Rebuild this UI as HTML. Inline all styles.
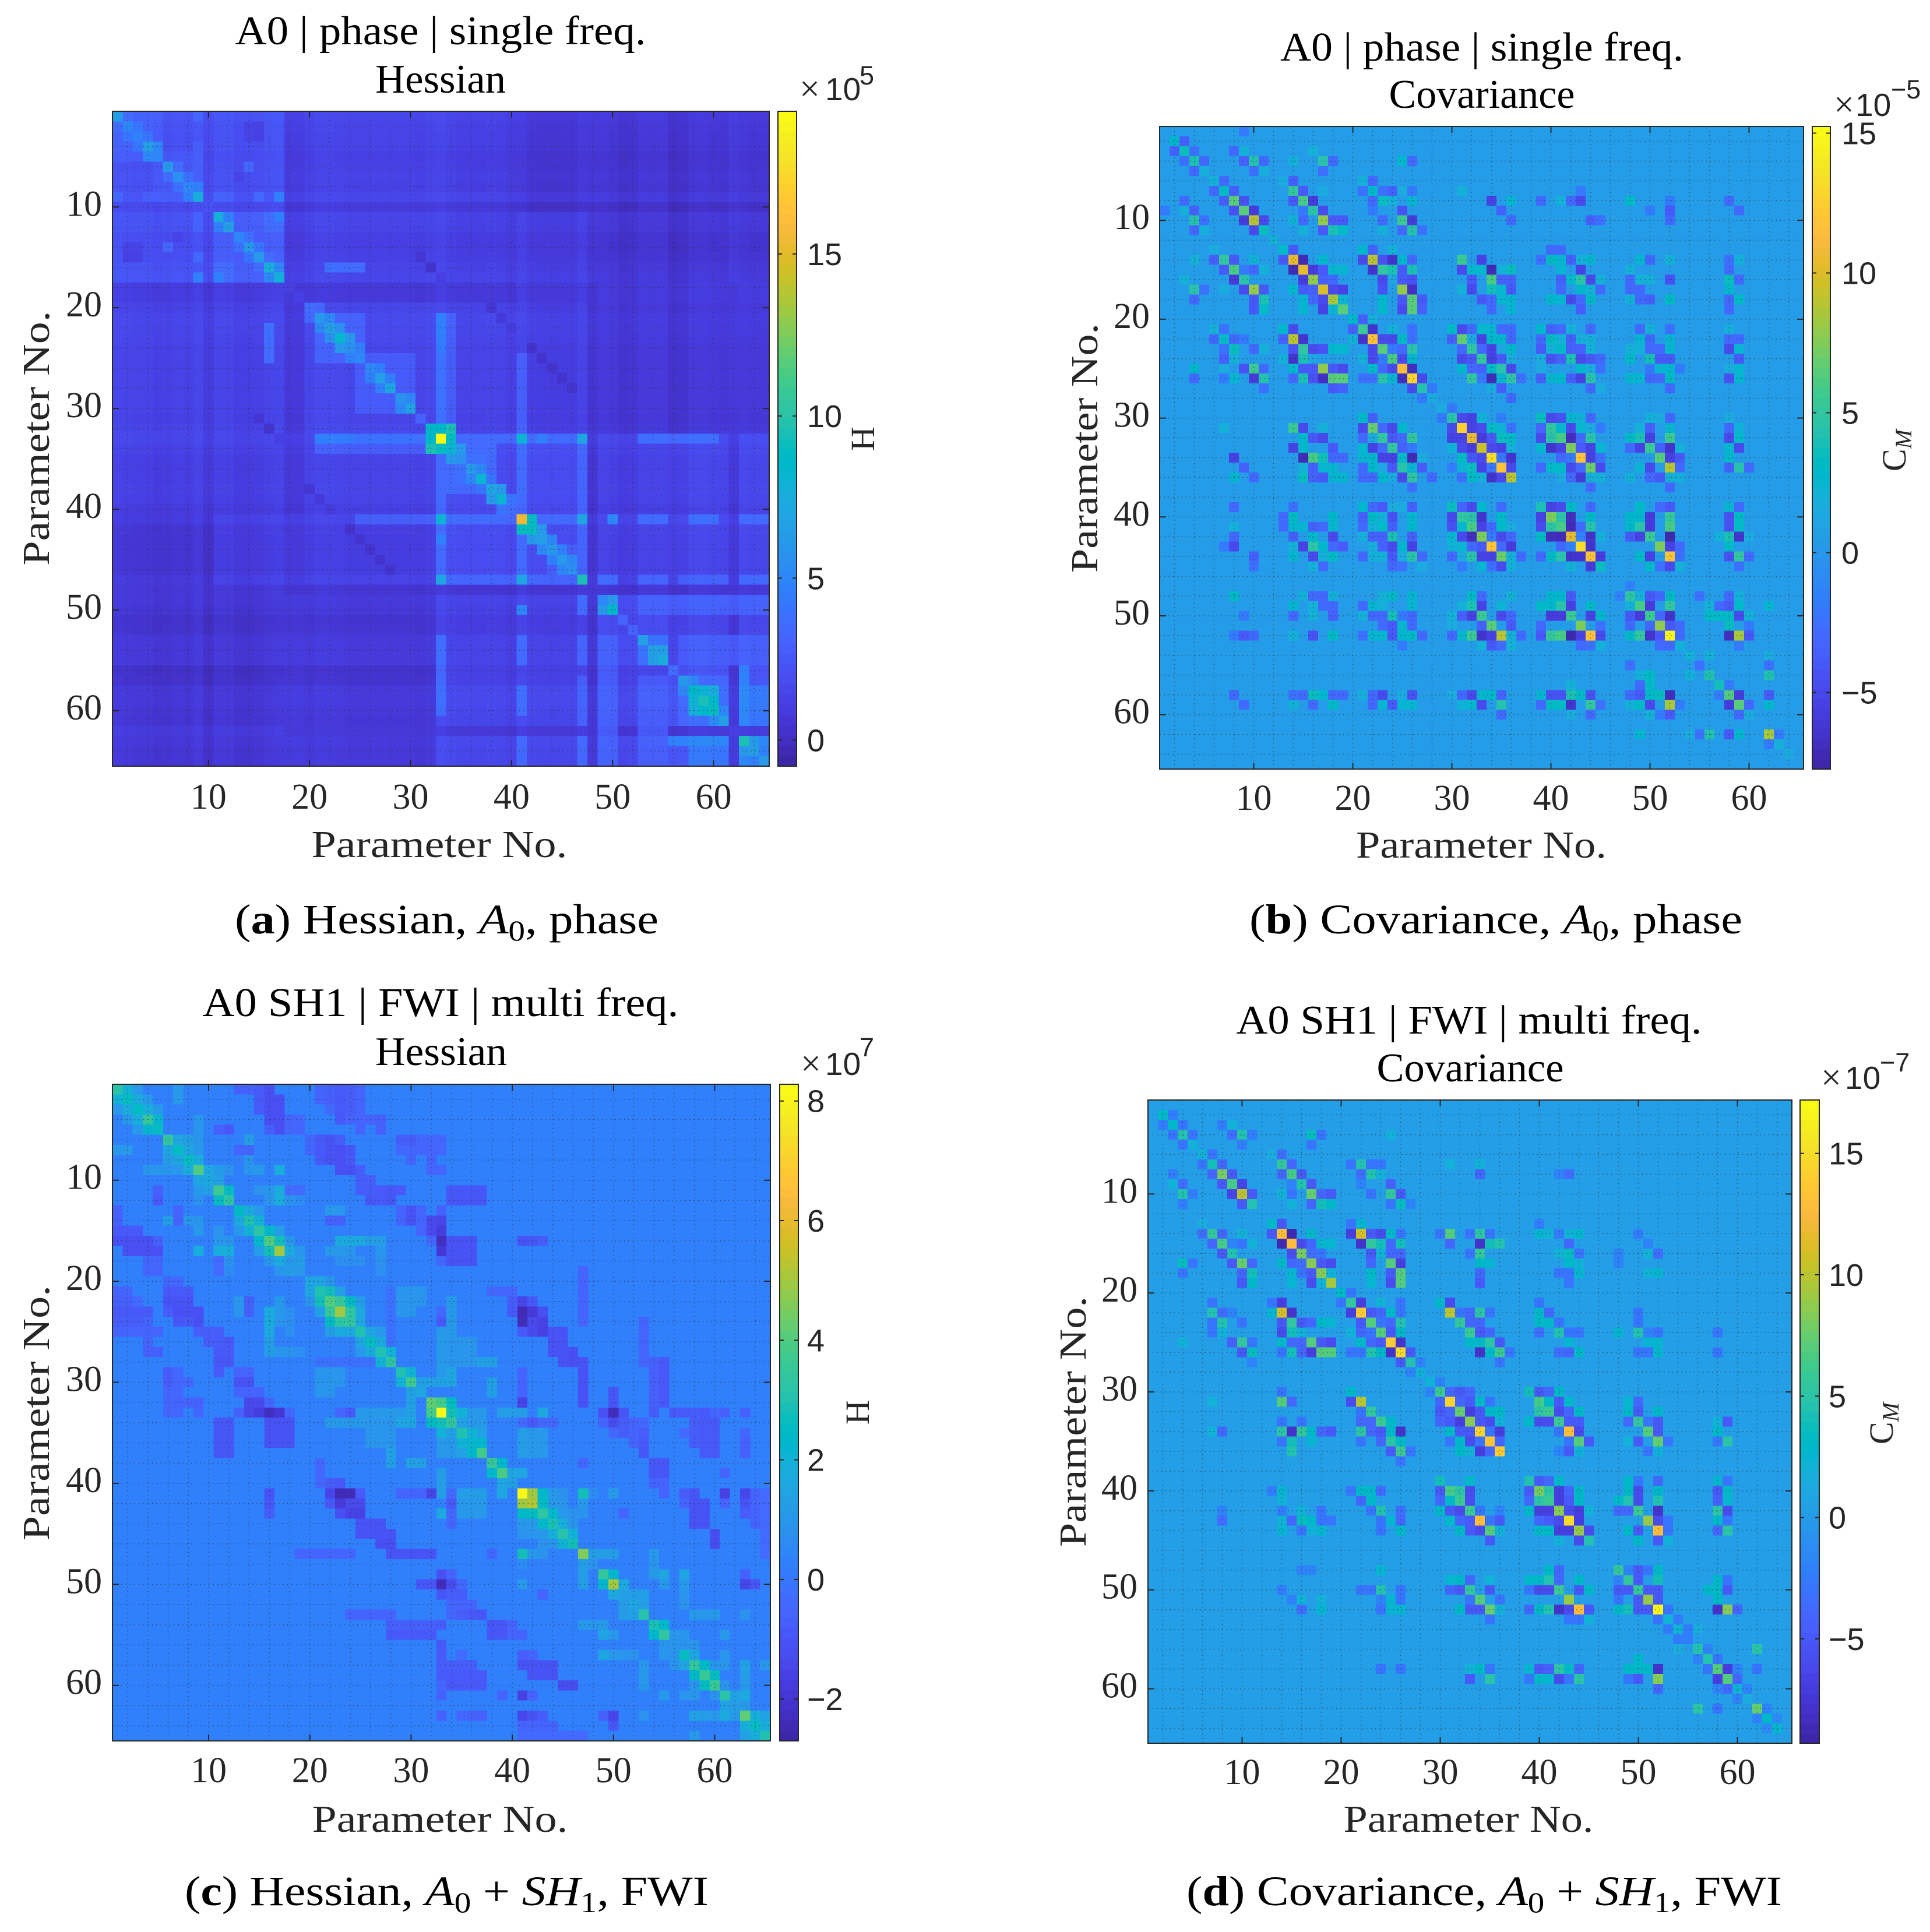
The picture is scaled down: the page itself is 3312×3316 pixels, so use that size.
<!DOCTYPE html>
<html lang="en">
<head>
<meta charset="utf-8">
<title>Hessian and covariance matrices</title>
<style>
html,body{margin:0;padding:0;background:#fff;}
svg{display:block;}
.tt{font-family:"Liberation Serif",serif;fill:#000;text-anchor:middle;}
.ax{font-family:"Liberation Serif",serif;fill:#262626;}
.cb{font-family:"Liberation Sans",sans-serif;fill:#262626;}
.cap{font-family:"Liberation Serif",serif;fill:#000;font-size:72px;}
</style>
</head>
<body>
<svg id="figure" xmlns="http://www.w3.org/2000/svg" width="3312" height="3316" viewBox="0 0 3312 3316">
<rect x="0" y="0" width="3312" height="3316" fill="#fff"/>
<g id="marks"></g>

<!-- Panel a -->
<text class="tt" x="756" y="76" font-size="70" textLength="705" lengthAdjust="spacingAndGlyphs">A0 | phase | single freq.</text>
<text class="tt" x="756" y="159" font-size="70" textLength="224" lengthAdjust="spacingAndGlyphs">Hessian</text>
<text class="ax" x="754" y="1471" font-size="66" text-anchor="middle" textLength="439" lengthAdjust="spacingAndGlyphs">Parameter No.</text>
<text class="ax" transform="translate(84,752) rotate(-90)" font-size="66" text-anchor="middle" textLength="437" lengthAdjust="spacingAndGlyphs">Parameter No.</text>
<text class="ax" transform="translate(1500,753) rotate(-90)" font-size="58" text-anchor="middle">H</text>
<text class="ax" x="1372" y="173" font-size="62">×</text>
<text class="cb" x="1416" y="172" font-size="55">10</text>
<text class="cb" x="1475" y="145" font-size="45">5</text>
<text class="cap" x="403" y="1602" textLength="727" lengthAdjust="spacingAndGlyphs">(<tspan font-weight="bold">a</tspan>) Hessian, <tspan font-style="italic">A</tspan><tspan dy="12" font-size="50">0</tspan><tspan dy="-12">, phase</tspan></text>

<!-- Panel b -->
<text class="tt" x="2543" y="104" font-size="70" textLength="692" lengthAdjust="spacingAndGlyphs">A0 | phase | single freq.</text>
<text class="tt" x="2543" y="185" font-size="70" textLength="319" lengthAdjust="spacingAndGlyphs">Covariance</text>
<text class="ax" x="2542" y="1472" font-size="66" text-anchor="middle" textLength="430" lengthAdjust="spacingAndGlyphs">Parameter No.</text>
<text class="ax" transform="translate(1883,769) rotate(-90)" font-size="66" text-anchor="middle" textLength="428" lengthAdjust="spacingAndGlyphs">Parameter No.</text>
<text class="ax" transform="translate(3270,809) rotate(-90)" font-size="58">C<tspan dy="10" font-size="40" font-style="italic">M</tspan></text>
<text class="ax" x="3147" y="200" font-size="62">×</text>
<text class="cb" x="3184" y="199" font-size="55">10</text>
<text class="cb" x="3245" y="169" font-size="45">−5</text>
<text class="cap" x="2144" y="1602" textLength="846" lengthAdjust="spacingAndGlyphs">(<tspan font-weight="bold">b</tspan>) Covariance, <tspan font-style="italic">A</tspan><tspan dy="12" font-size="50">0</tspan><tspan dy="-12">, phase</tspan></text>

<!-- Panel c -->
<text class="tt" x="756" y="1744" font-size="70" textLength="817" lengthAdjust="spacingAndGlyphs">A0 SH1 | FWI | multi freq.</text>
<text class="tt" x="757" y="1828" font-size="70" textLength="226" lengthAdjust="spacingAndGlyphs">Hessian</text>
<text class="ax" x="755" y="3144" font-size="66" text-anchor="middle" textLength="439" lengthAdjust="spacingAndGlyphs">Parameter No.</text>
<text class="ax" transform="translate(84,2425) rotate(-90)" font-size="66" text-anchor="middle" textLength="438" lengthAdjust="spacingAndGlyphs">Parameter No.</text>
<text class="ax" transform="translate(1491,2424) rotate(-90)" font-size="58" text-anchor="middle">H</text>
<text class="ax" x="1374" y="1846" font-size="62">×</text>
<text class="cb" x="1416" y="1845" font-size="55">10</text>
<text class="cb" x="1475" y="1813" font-size="45">7</text>
<text class="cap" x="317" y="3270" textLength="899" lengthAdjust="spacingAndGlyphs">(<tspan font-weight="bold">c</tspan>) Hessian, <tspan font-style="italic">A</tspan><tspan dy="12" font-size="50">0</tspan><tspan dy="-12"> + </tspan><tspan font-style="italic">SH</tspan><tspan dy="12" font-size="50">1</tspan><tspan dy="-12">, FWI</tspan></text>

<!-- Panel d -->
<text class="tt" x="2521" y="1774" font-size="70" textLength="799" lengthAdjust="spacingAndGlyphs">A0 SH1 | FWI | multi freq.</text>
<text class="tt" x="2523" y="1856" font-size="70" textLength="321" lengthAdjust="spacingAndGlyphs">Covariance</text>
<text class="ax" x="2520" y="3144" font-size="66" text-anchor="middle" textLength="429" lengthAdjust="spacingAndGlyphs">Parameter No.</text>
<text class="ax" transform="translate(1863,2440) rotate(-90)" font-size="66" text-anchor="middle" textLength="430" lengthAdjust="spacingAndGlyphs">Parameter No.</text>
<text class="ax" transform="translate(3248,2479) rotate(-90)" font-size="58">C<tspan dy="10" font-size="40" font-style="italic">M</tspan></text>
<text class="ax" x="3125" y="1870" font-size="62">×</text>
<text class="cb" x="3166" y="1869" font-size="55">10</text>
<text class="cb" x="3226" y="1839" font-size="45">−7</text>
<text class="cap" x="2036" y="3270" textLength="1022" lengthAdjust="spacingAndGlyphs">(<tspan font-weight="bold">d</tspan>) Covariance, <tspan font-style="italic">A</tspan><tspan dy="12" font-size="50">0</tspan><tspan dy="-12"> + </tspan><tspan font-style="italic">SH</tspan><tspan dy="12" font-size="50">1</tspan><tspan dy="-12">, FWI</tspan></text>
</svg>

<script>
/* Shared axis data */
const paramCount = 65;
const axisTicks = [10,20,30,40,50,60];

/* Panel a: Hessian, A0, phase (x 1e5) */
const hessAMin = -0.8, hessAMax = 19.4, hessABase = 1.0;
const hessATicks = [0,5,10,15];
const hessADiag = [6.3,5,4.5,6.5,5,6,5.5,5,7.5,2,7.5,6.5,5,6,6,7.5,7.8,1,1,3.5,6,6.5,8.3,5.5,5,5,6.5,7,5.5,6.8,3,8.5,19.4,8,5.5,6,8,7,8,3.5,15.5,9,6.5,6,6,5.5,9.5,0.5,5,8.5,3,3,6.5,6.5,7.5,3.5,6,8.5,9.5,9,6.5,1,9.5,6.5,6];
const hessAShift = [.4,.3,.2,.2,0,.1,.2,.1,.4,-.2,.3,.3,0,0,.1,.3,.4,0,0,0,.2,.2,.1,0,0,0,0,0,0,0,-.1,.1,.4,.2,0,0,0,.1,0,-.2,.4,.1,0,0,0,0,.3,-.1,.2,.1,-.2,-.1,.2,.2,.2,-.2,-.1,.3,.3,.2,.1,-.2,.3,.2,.2];
const hessAPatches = [
[1,17,1,17,1.6],[1,17,18,19,.7],[1,17,20,32,1],[1,17,33,40,.8],[1,17,41,47,.6],[1,10,41,47,.2],[1,17,48,55,.2],[1,17,56,65,.1],
[18,19,18,65,.6],[20,32,20,32,1.4],[20,32,33,40,1.2],[20,32,41,47,.9],[20,32,48,55,.5],[20,32,56,65,.4],
[33,47,33,47,1.7],[33,47,48,55,1],[33,47,56,65,1.2],[49,55,49,55,1.7],[49,55,56,65,1.4],[56,65,56,65,2.2],
[48,48,1,65,.5],[62,62,1,65,.8],
[1,5,1,5,2.4],[5,9,5,9,2.2],[11,17,11,17,2.4],[21,25,21,25,2.8],[25,30,25,30,2.6],[34,38,34,38,3.2],[35,37,35,37,3.8],[41,43,41,43,4.2],[44,47,44,47,2.7],[49,50,49,50,4.2],[53,55,53,55,3.4],
[21,31,33,33,3.3],[34,34,21,32,2.5],[33,33,21,24,3.9],[33,33,25,32,3.4],[33,33,34,47,3],[41,41,33,47,3],[41,41,25,32,2.4],[47,47,33,46,2.8],
[41,41,53,55,2.8],[41,41,58,60,3],[41,41,63,65,2.7],[47,47,49,50,3],[47,47,53,55,2.6],[47,47,57,61,2.5],[47,47,63,65,2.8],[33,33,53,60,3],
[49,50,53,65,2.6],[53,55,57,65,2.4],[57,61,57,61,3.2],[58,61,63,65,3.7],[56,61,63,63,4.5],[63,65,63,65,4.2],
[16,16,22,25,2.8],[22,25,16,16,3.2]
];
const hessARows = [
[1,2,3.5],[2,3,4],[3,4,4],[4,5,5],[6,7,3.5,14,3.2],[7,8,3.8],[8,9,4.5],
[9,1,3.2,4,2.8,5,2.8,6,2.8,7,2.8,11,3,12,3,15,3.3,17,4.5],
[11,12,4.5,16,3.5,17,4.5],[12,16,3.5,17,3.5],[13,14,3.8,7,1.2],[14,15,4,2,1.2,3,1.2],[15,16,3.5,2,1.1,3,1.1],[16,17,5],
[20,21,3.3],[21,22,5],[22,23,5.5],[23,24,6],[24,25,4.5],[26,27,4.5],[27,28,4.5],[29,30,5],
[32,33,8.5,34,9.5],[33,34,9,41,8,43,4.5],[34,35,6],[36,37,5],[37,38,4],[38,39,6],[39,40,4],
[41,42,9,47,7,50,5],[42,43,6],[43,44,5],[44,45,4.5],[45,46,5],[33,47,7],
[49,50,6],[53,54,4],[54,55,6.5],[57,58,5],[58,59,8],[59,60,8.5],[58,60,7.5],[60,61,5],[63,64,6],[63,65,5],
[24,42,.2],[25,43,.2],[26,44,.2],[27,45,.2],[28,46,.3],[15,31,.4],[16,32,.3],[17,33,1],[38,20,.5],[39,21,.6],[40,22,.8]
];

/* Panel b: Covariance, A0, phase (x 1e-5) */
const covBMin = -7.74, covBMax = 15.24, covBBase = 0.3;
const covBTicks = [-5,0,5,10,15];
const covBRows = [
[1,9,-2],[2,2,2.8,3,-3.5],[3,3,3.5,4,-2.5,8,-3,9,2,16,2],
[4,4,4,5,-3,9,-3.5,10,4.3,11,-3,14,2,17,4.5,18,-3,25,2.8,26,-3],
[5,5,1.8,10,-2.5,11,1.8,17,-2.5],[6,6,2,7,-3,13,1.5,14,-3.5,21,2,22,-3],
[7,7,3,8,-3.5,14,5,15,-4,17,1.5,21,-2.5,22,3,23,-2.5,24,-3.5,25,1.5,26,-2,31,2,43,-2],
[8,8,6.5,9,-4.5,14,-4,15,6,16,-6,22,-3,23,3.5,24,2,26,2.5,34,-4,42,-3,52,-2],
[9,9,6.5,10,-6,15,-2,16,4.5,17,-5,22,-2,25,-4.5],
[10,10,9,11,-5,14,2.2,15,-3,17,8,18,-4,19,-4,23,-3,25,5.5,26,-6,52,-3],
[11,11,3.5,15,2,17,-4,18,4,19,3,23,2,25,-3,26,4.3,27,-2.5],
[12,12,2],[13,13,3,14,-4,21,2.8,22,-3.5,24,2],
[14,14,10.5,15,-7.3,17,2.7,21,-5,22,9,23,-4.5,24,-6.5,25,2.7,26,-3,31,5.5,33,-5.5],
[15,15,10.5,16,-6,17,-4,18,2.5,19,2.5,22,-6.5,23,5,24,4,25,-4,26,4,31,-5,32,2.8,33,2.8,34,-7.2,35,2,36,3.5],
[16,16,8,17,-3.5,18,-3,23,-5,24,1,25,-4,26,-4.5,32,-4,34,6,35,-3.5,36,-3.5],
[17,17,10,18,-5,19,-5.5,23,-4.5,25,8,26,-6.8,31,2,32,-5,34,3.7,35,2.5,36,-4],
[18,18,8.5,19,2.3,23,2.7,25,-4,26,6.5,27,-4,33,-4,34,-3,35,2.5,36,2.5],
[19,19,6.5,23,2.7,25,-5,26,6.5,27,-3.5,34,-3,36,2.5],
[20,20,2.8,21,-3.5,22,2],[21,21,5.5,22,-6.5,24,2,26,-2.5,30,3,31,-5,32,-3,33,2.7,34,2.5,35,-3,36,-3],
[22,22,12,23,-5,24,-5,25,3,26,-2.5,30,-3.5,31,6.8,32,1.5,33,-5.5,34,2.8,35,2.8,36,-3,40,3.2,41,2,42,-3.5,44,2,50,-3,52,2.5],
[23,23,6.5,24,-2,25,-3,26,4.5,31,-3,32,5,33,-3,34,-5.5,35,1,36,2.8,39,-3.5,40,2,41,3,42,-3.5,43,-3.5,44,2,48,2,49,2,50,-3,51,-3,52,3],
[24,24,6,25,-5,26,2.5,31,-5,32,-4,33,5,34,-5.5,35,-4,36,1.5,39,1.5,40,-4.5,41,-3.5,42,4,43,-5,44,-4,50,3.8,51,-4,52,-4],
[25,25,11.5,26,-7,31,2.8,32,-3,33,-3.5,34,3,35,4.5,36,-5,39,1.5,43,3,44,1.5,45,-2.5,51,2.5,52,2.5,53,-2,58,1.5],
[26,26,13,27,-5,32,5,33,-2,34,-7.2,35,2.5,36,4.8,37,-2.5,39,-3.8,40,2.5,41,2.8,42,-3.5,43,-5.5,44,4.5,48,1.8,49,1.8,50,-3,51,-3,52,4.2,58,-3.5,59,1],
[27,27,4.3,28,-2,34,1.5,35,-3.8,44,-3,45,1.5,52,-3],[28,28,1.5,36,-3],[29,29,1.5,30,-2],
[30,30,4.5,31,-5,32,-5.5,33,2.2,35,-1.6,39,3.5,40,-5,41,-4.5,42,2.5,43,2.2,44,-3,50,2,51,1.5,52,-3,58,1.5],
[31,31,12.8,32,-5.5,33,-5,34,3.2,35,2.3,36,-2.5,39,-3.3,40,5,41,2.7,42,-5,43,2.4,44,1.5,45,-2,49,2,50,-3.5,52,2.5,58,-3,59,2.2],
[32,32,10.5,33,-6,34,-4,35,3.5,36,3,39,-5,40,4.5,41,6,42,-7,43,-3,44,4.5,48,3,49,4,50,-5.5,52,5.5,58,-5,59,2.7],
[33,33,9.5,34,-5,35,-5.5,36,2,39,2.7,40,-6.5,41,-5.5,42,7.5,43,-4,44,-5.5,45,2.5,48,-3,49,-5.5,50,5.5,51,-3.5,52,-6.5,53,2,58,2.6,59,-5],
[34,34,13.5,35,-2.2,36,-6.5,41,-3,42,-2,43,12,44,-5.5,45,-2.5,51,6.5,52,-5.5,53,-4,58,2.8],
[35,35,12,36,-5,39,-3,40,3,41,3,42,-5,43,-3,44,7,45,-5,49,2.3,50,-5,52,9,53,-3,58,-3.5,59,4.3,60,-3],
[36,36,9,41,1.5,42,-3,43,-6,44,2,45,2,48,2,50,-3,51,-4,52,2,53,2],[37,44,-3,52,-3],
[39,39,4,40,-5.5,41,-5,42,3.2,44,-3,49,3,51,-3,52,-4,58,2.5,59,-3],
[40,40,7.5,41,4.7,42,-7,44,3,48,2.8,49,2.8,50,-6,52,5.2,58,-4.5,59,3.2],
[41,41,6,42,-7.2,43,-3,44,4.5,48,2.8,49,4.5,50,-6,52,6,58,-4.5,59,3.2],
[42,42,10.5,43,-1.5,44,-6.5,45,2,48,-4,49,-5.5,50,5.5,52,-7.5,57,2,58,4,59,-6.5,60,1.5],
[43,43,13.5,44,-6.5,51,7.5,52,-5.5,53,-3,58,3],
[44,44,12,45,-6,49,3,50,-5.5,52,12,53,-2.5,58,-4.5,59,5,60,-3],
[45,45,3.5,50,2.8,51,-2.5,52,-5,53,2,59,-2.5],[47,48,-1.5],
[48,48,4.8,49,2,50,-4,51,-3,52,3,55,-2.5,58,-3,59,2],
[49,49,6,50,-6,52,5,56,2,57,-3,58,-4,59,3,62,2.5],
[50,50,5.5,51,-3,52,-6.5,56,3,57,3,58,3,59,-5,60,2],
[51,51,8,52,-4,53,-3,58,3.4,60,-2],[52,52,15,53,-3,58,-7,59,8.5,60,-4],[53,53,2,59,-2],
[54,54,2,56,2,62,1.5],[55,55,-2.5,62,-2.5],[56,56,4.2,62,4.2],[57,57,3.8,58,-2],[58,58,6.3,59,-6,62,-4],[59,59,6.5,60,-3,62,2.8],
[60,60,1.5],[62,62,8.5,63,-2],[63,63,1.8],[64,64,1.5],
[34,8,-5.5],[35,9,-3.5],[36,8,2.6,10,-3],[39,8,-3,14,-2.5,21,2.8,22,-3,23,-4,26,-3.5],[40,13,-3,14,3.2,18,2.8,21,-3.5],[41,8,2,13,-3,14,2.6,15,2.5,16,-3.5,17,-3,18,2.5,21,-3],
[42,14,-3.5,16,2.7,18,-5,21,2],[43,8,-5,14,2,15,-5.5,16,4.7,17,2.8,18,-3,19,-3.8,22,1.8,25,2.8],[44,10,-3.5,14,2.5,16,-5,17,2,18,3,21,-3],[45,10,-2.5,16,2,17,-3,24,-3],
[48,8,3,15,2,16,-3,17,-3,18,2,24,3,26,2.5],[49,14,2.5,16,2,17,-3,18,-3,21,-3,22,2.5,26,2.5],[50,9,-2,14,-3,16,2,18,-3.5,21,2,25,-2,26,-3],
[52,9,-4,14,2,16,-4.5,18,3.2,21,-2.5,22,2.5,23,2.5,25,2.8,26,3,27,-3],
[58,8,-3,14,-2.5,15,-3,16,3.5,17,2.7,18,-3,19,-3,21,1.8,22,-3,23,-5,25,1.5,26,-4.5],[59,9,-3,14,2,16,-3,18,3,22,-3,23,2.5,24,-4,25,2.5,26,2.5]
];

/* Panel c: Hessian, A0 + SH1, FWI (x 1e7) */
const hessCMin = -2.7, hessCMax = 8.28, hessCBase = 0.2;
const hessCTicks = [-2,0,2,4,6,8];
const hessCDiag = [3.2,2.6,2.5,3.5,2.6,3.4,2.6,2.6,4,1.6,3.7,3.3,2.5,3,3.3,4,5,1,1,1.5,3,4,5,3.4,3,2.6,3,3.3,3,3.7,1.5,4.2,8.2,3.4,3,2.2,3.8,3.5,3.9,1.3,8.2,5.2,3.3,2.9,3.2,2.8,4.6,.8,3.5,5,1.3,1.5,3.1,2.9,3.4,.9,2.6,3.4,3.6,3.6,3.2,1.2,4.2,2.6,3];
const hessCPatches = [
[1,1,13,16,-.5],[1,2,21,23,-.6],[2,2,15,17,-.7],[3,3,15,17,-1],[3,3,22,25,-.4],[4,4,16,17,-1.2],[4,4,18,19,-.5],[4,4,23,27,-.6],[5,5,11,12,-.7],[5,5,16,18,-.7],
[6,6,21,23,-.8],[6,7,29,33,-.5],[7,7,13,14,-.5],[7,8,22,23,-1.1],[9,9,23,25,-1],[9,9,32,33,-.7],
[11,11,18,19,-.4],[11,11,25,29,-.9],[12,12,5,5,-.9],[12,12,26,28,-1],[11,12,34,37,-1],
[13,14,1,1,-.7],[13,14,30,30,-1],[13,14,7,7,-.6],[14,14,22,23,-.7],[14,15,32,33,-1.3],[15,15,1,3,-.9],[16,16,1,4,-1.2],[17,17,2,5,-1.2],[17,17,33,36,-1.7],[18,19,4,5,-.5],[16,16,41,43,-1.1],
[20,20,6,7,-.5],[21,21,6,8,-.9],[22,22,1,2,-.7],[22,22,6,8,-1.1],[23,23,1,4,-.9],[23,23,7,9,-1.2],[24,24,1,3,-.8],[24,24,7,9,-1],[25,25,1,5,-.6],[25,25,9,11,-.8],[26,26,10,11,-.8],[27,27,4,5,-.7],[27,27,11,12,-.9],[28,28,11,12,-1],[28,28,21,28,-.2],
[29,30,6,6,-.8],[29,29,13,14,-.6],[30,30,13,14,-1.1],[30,30,7,8,-.5],[31,31,13,15,-.6],[32,32,7,9,-.6],[32,32,14,15,-1.4],[33,33,13,14,-.7],[34,36,11,12,-1],[34,36,16,18,-1.1],
[21,21,38,40,-.5],[22,24,47,47,-.6],[25,25,42,44,-1.3],[26,26,44,45,-1],[27,27,44,46,-1.1],[28,28,45,46,-1.2],[30,32,47,47,-1.1],[30,32,54,55,-.7],[31,32,50,50,-1],
[41,41,29,31,-.6],[44,44,25,27,-1.1],[45,45,25,28,-1.1],[46,46,27,28,-1.2],[47,47,28,32,-1.1],[47,47,19,24,-.6],[53,53,24,28,-.6],[54,54,28,33,-.7],[55,55,28,32,-.9],
[33,33,56,59,-.9],[34,34,43,44,-.5],[35,35,51,52,-.4],[35,36,58,60,-.7],[37,37,59,60,-.7],[38,39,54,55,-1],[40,40,54,55,-.6],
[41,41,57,58,-.8],[42,43,58,59,-1.1],[44,44,58,59,-1.1],[45,46,60,60,-1],[51,51,34,35,-.8],[52,52,34,36,-.6],[53,53,34,37,-.9],[54,55,38,39,-1],[58,58,33,36,-.8],[58,58,41,43,-1.1],[59,59,34,37,-.9],[59,59,43,44,-1.1],[60,60,34,37,-.9],[60,60,45,46,-1.3],[63,63,35,37,-.7],[63,63,42,43,-1.2],[64,64,41,44,-.6],[65,65,41,47,-.4],
[1,1,3,3,1],[6,6,7,8,1.5],[9,9,4,7,.9],[16,16,23,25,1.8],[16,16,26,27,1.2],[17,17,22,23,1],[18,18,23,25,.7],[13,13,22,23,1.2],[21,22,29,31,.9],[23,23,29,30,.9],[23,24,16,16,1.7],[25,25,16,16,1.6],[23,24,17,17,1],[29,30,21,23,.9],
[34,34,22,25,1.1],[34,34,26,30,1.5],[35,38,28,28,1.3],[38,38,30,31,1.3],[25,30,33,33,1.1],[26,28,34,36,.9],
[35,37,41,43,1.1],[41,41,35,37,1.2],[42,43,35,37,1],[45,45,41,43,.9],[47,47,48,50,1.2],[54,54,47,48,.9],[56,56,55,58,.85],[57,57,50,52,1],[60,60,61,61,.8],[62,62,61,63,1.1]
];
const hessCRows = [
[1,2,2,7,1.2],[2,3,1.7,4,1,7,1],[3,4,1.8,5,1],[4,5,2.2],[7,1,1,2,1,8,2,9,1],[8,6,1.2,7,1.5,9,2.3],
[9,8,1.8,10,1.5,11,1.3,12,.9,14,.9,15,1,17,1.8],[10,11,1.3],[11,9,1.1,10,1.3,12,2.6,15,.8,16,1,17,1.8],[12,9,.8,16,1.1,17,1.8,18,1,19,1],
[13,14,1.7,15,1],[14,6,1.2,8,.9,9,.9,15,2],[15,9,1,16,2.3,17,1.2],[16,11,.9,12,.9,17,2.8,18,1],[17,9,1.8,11,1.8,12,1.8,18,1.7,19,.9,24,.9,27,.9],
[18,12,.8,19,1.2,27,.8],[19,12,.6,27,.7],[20,21,1.5,22,.9],[21,22,2.8,23,1.3],[22,23,3.5,24,2.5,25,1.2,13,1],[23,13,.9,24,3.3,25,1.6],[24,25,1.6],[25,26,1.5,27,1],[26,27,1.7],[27,28,2],[29,30,2],[30,31,1.3,32,1.3,33,1.3],
[32,33,3.8,34,2.5],[33,34,2.8,35,2,36,1,37,1,39,1.2,40,1.2,41,1.2,43,1.6,49,-1.5,50,-2.2,51,-1,54,-.8,60,-.5,61,-.7,63,-.7],
[34,35,1.3,36,1,37,1,41,-.4,42,-.9,49,-.6,50,-1,53,-.5],[35,36,2,37,1.4,53,-.8,57,-.4,63,-.5],[36,37,2.3],[37,53,-1],
[38,39,2.3,47,-.5],[39,40,1.5,41,1.5,61,-.6],[41,42,5,43,2.4,44,1,45,.8,47,2.8,48,.6,50,1,55,-.6,61,-1.7,63,-1.3],[42,43,2.5,44,1,47,1,57,-.6,61,-.6,63,-1.1],[43,44,2.3,45,1,46,.8,47,.8,51,-.6,63,-.8],
[44,45,1.9,46,.9],[45,46,2],[47,54,1],[49,50,2.3,54,1.1,55,1.5,57,1.5],[50,51,1.6,55,1,63,-1.2,64,-1],[51,52,1.2,53,1.2,57,.9],[52,53,1.3,57,.8],[53,58,1,59,1,60,1,63,.8],[54,55,2.3],[55,56,.9,57,.9,61,1],[57,58,1.5,61,.9],
[58,59,2.4,60,.9,61,.9,63,1.4,65,1],[59,60,2.6,63,1.2],[60,63,1],[61,62,1.4,63,1.6],[63,64,1.9,65,1.4],[64,65,1.8],[41,16,-1.1],[41,22,-1.5,23,-2.5,24,-2.4,25,-.9,32,-1.6],
[42,16,-1,22,-1,23,-1.9,24,-1.4,25,-1.4],[43,16,-.8,23,-1.2,24,-1.6,25,-1.7],[23,33,-1.2,40,-.9],[22,40,-.8,42,-.9],[50,33,-2.4,34,-1.3,35,-.5],[49,33,-1.2],[33,15,-1.5,16,-2.5,17,-2,18,-.5,9,-.5,23,-.5,24,-.9],[16,33,-2.3,32,-.5],[15,33,-1.8],[63,41,-1.5,49,-.7,50,-1.5],[14,33,-1.5],[9,24,-1.2],[8,24,-.9]
];

/* Panel d: Covariance, A0 + SH1, FWI (x 1e-7) */
const covDMin = -9.3, covDMax = 17.2, covDBase = 0.2;
const covDTicks = [-5,0,5,10,15];
const covDRows = [
[2,2,3,3,-2.5],[3,3,3,4,-3,8,-2.5,9,2],
[4,4,4.5,5,-3,9,-3.5,10,4.5,11,-2.5,17,3.5,18,-3,25,2],
[5,5,2,10,-2.5,17,-3],[6,6,2,7,-3,13,1.5,14,-3.5],
[7,7,4,8,-4,14,5.5,15,-4,21,-3,22,4.5,23,-3,24,-3,31,2,34,2],
[8,8,8,9,-5,14,-4,15,6.5,16,-5,22,-3.5,23,4.5,24,2,34,-4,42,-2],
[9,9,6.5,10,-6.5,15,-2,16,4.5,17,-5,22,-2,25,-4.5],
[10,10,10,11,-5,14,2,15,-3,17,7.5,18,-4,19,-5,23,-3,25,5.5,26,-5],
[11,11,4.5,15,2,17,-4,18,4,19,3,25,-3,26,3.5,27,-2],
[13,13,3,14,-5,21,-3,22,2.5],
[14,14,13,15,-9,17,3,21,-7,22,11,23,-5,24,-6,25,3,26,-3,30,-3,31,7,33,-3,34,5,35,-3,40,2.5],
[15,15,13,16,-6,17,-4,18,2.5,19,2.5,22,-8,23,5.5,24,4,25,-4,26,4,31,-4,34,-8,35,4,36,4.5],
[16,16,8,17,-3.5,18,-3,23,-5,24,2,25,-4,26,-4,33,-3,34,5.5,43,3.5,44,-3],
[17,17,8.5,18,-5,19,-6,23,-4,25,7,26,-7,34,3,35,2.5,43,3],
[18,18,8.5,19,2,23,3,25,-5,26,7,34,-4],[19,19,9.5,23,2.5,25,-6,26,7,34,-5],[20,20,3,21,-3],
[21,21,5.5,22,-7,24,2,26,-3,30,3,31,-6],
[22,22,14,23,-5,24,-4,25,3,26,-3,31,10,32,-3,33,-4,34,5,35,-3,40,3,41,-4],
[23,23,7,24,-3,25,-4,26,4.5,32,5.5,33,-4,34,-4,41,4,42,-3],
[24,24,7,25,-5,26,3,33,6,34,-5,35,-4,42,4.5,50,4.5],
[25,25,14,26,-8,33,3,34,3,35,5,36,-5,43,2.5,51,2.5],
[26,26,15,27,-5,34,-8,35,3,36,6,37,-3],[27,27,4.5,28,-2,36,-3],[28,28,2],[29,29,2,30,-2],
[30,30,6,31,-4,32,-5,33,-4,39,4,40,-5,41,-4,42,3],
[31,31,14.5,32,-4,33,-5,34,3,35,-3,40,6.5,41,3,42,-5,43,3,49,2.5,50,-4],
[32,32,7.5,33,-7,34,-5,35,3,36,3,40,5,41,6,42,-6,43,-4,44,3,49,3,50,-5,52,3],
[33,33,8.5,34,-5,35,-6,36,2,39,3,40,-6,41,-6,42,6,43,-5,44,-5,49,-4,50,5.5,51,-3,52,-5,58,2,59,-5],
[34,34,14.5,35,-3,36,-7,42,-3,43,13,44,-6,51,7,52,-5,58,3],
[35,35,13.5,36,-4,43,-3,44,7,45,-5,49,2,50,-5,52,7.5,53,-3,58,-3,59,5],
[36,36,14,42,-2,43,-5,44,2,51,-3,52,2],
[39,39,4.5,40,-5,41,-4,42,3,49,3,50,-3,52,-4,58,2.5,59,-3],
[40,40,8,41,5,42,-7,43,-4,44,3,49,3,50,-6,52,3,58,-5,59,3,13,-2.5,21,-3,22,3,23,3,24,-3.5],
[41,41,6,42,-7,43,-5,44,3,48,3,49,4.5,50,-6,52,4.5,58,-4.5,59,2.5,14,2,23,3],
[42,42,8.5,43,-6,44,-7,45,2,48,-4,49,-4,50,6,52,-8,58,5,59,-6,14,-2.5,16,2,18,-3,24,4.5,26,-3.5],
[43,43,15,44,-7,51,9,52,-6,53,-3,58,3,59,-3,8,-3.5,14,2,15,-4,18,-3,19,-3,24,-3,26,-4],
[44,44,9,45,-6,49,3,50,-5,52,13,53,-3,58,-4,59,5,14,2.5,17,2,18,2.5,24,-3,26,3],
[45,45,4.5,50,3,52,-5,53,2],
[48,48,5.5,49,-2,50,-5,51,-3,52,3,16,-2,17,-2,24,2.5],[49,49,5.5,50,-5,52,4,58,3,59,-3],[50,50,5.5,51,-5,52,-5,57,3,58,3,59,-5,14,-2.5,22,-3,23,-3,26,-3],[51,51,9,52,-5,58,3,15,-2,16,2,18,2,24,-2,26,-3],
[52,52,17,53,-3,58,-8,59,8.5,60,-4,16,-3.5,18,2.5,24,-3,25,2.5,26,2.5],[53,53,2,54,-2.5],[54,54,2,55,-2.5,56,1.5],[55,55,-2.5],[56,56,4.5,57,-2,62,5],[57,57,4.5,58,-3],
[58,58,7,59,-7,60,-2,62,-3,24,-3,26,-3],[59,59,7,60,-4],[60,60,2,61,-2],[61,61,1.5],[62,62,7.5,63,-2],[63,63,3,64,-1.5],[64,64,2.5]
];

/* Colour lookup (MATLAB parula, 64 steps) */
const parula = [[.2422,.1504,.6603],[.2504,.165,.7076],[.2578,.1818,.7511],[.2647,.1978,.7952],[.2706,.2147,.8364],[.2751,.2342,.871],[.2783,.2559,.8991],[.2803,.2782,.9221],[.2813,.3006,.9414],[.281,.3228,.9579],[.2795,.3447,.9717],[.276,.3667,.9829],[.2699,.3892,.9906],[.2602,.4123,.9952],[.244,.4358,.9988],[.2206,.4603,.9973],[.1963,.4847,.9892],[.1834,.5074,.9798],[.1786,.5289,.9682],[.1764,.5499,.952],[.1687,.5703,.9359],[.154,.5902,.9218],[.146,.6091,.9079],[.138,.6276,.8973],[.124,.6459,.8883],[.1113,.6635,.8763],[.0952,.6798,.8598],[.0689,.6948,.8394],[.0297,.7082,.8163],[.0036,.7203,.7917],[.0067,.7312,.766],[.0433,.7411,.7394],[.0964,.75,.712],[.1408,.7584,.6842],[.1717,.767,.6554],[.1938,.7758,.6251],[.2161,.7843,.5923],[.247,.7918,.5567],[.2906,.7973,.5188],[.3406,.8008,.4789],[.3909,.8029,.4354],[.4456,.8024,.3909],[.5044,.7993,.348],[.5616,.7942,.3045],[.6174,.7876,.2612],[.672,.7793,.2227],[.7242,.7698,.191],[.7738,.7598,.1646],[.8203,.7498,.1535],[.8634,.7406,.1596],[.9035,.733,.1774],[.9393,.7288,.21],[.9728,.7298,.2394],[.9956,.7434,.2371],[.997,.7659,.2199],[.9952,.7861,.1999],[.9892,.8137,.1885],[.9786,.8386,.1766],[.9676,.8639,.1643],[.961,.889,.1537],[.9597,.9135,.1423],[.9628,.9373,.1265],[.9691,.9606,.1064],[.9769,.9839,.0805]];

const SVGNS = 'http://www.w3.org/2000/svg';
const marks = document.getElementById('marks');

function colorFor(v, min, max){
  let f = (v - min) / (max - min);
  f = Math.max(0, Math.min(1, f)) * 63;
  const i = Math.min(62, Math.floor(f)), t = f - i;
  const a = parula[i], b = parula[i + 1];
  return 'rgb(' + [0,1,2].map(k => Math.round((a[k] + (b[k] - a[k]) * t) * 255)).join(',') + ')';
}

function buildMatrix(base, patches, shift, rows, diag){
  const m = [];
  for (let r = 0; r < paramCount; r++){ m.push(new Array(paramCount).fill(base)); }
  patches.forEach(p => {
    for (let r = p[0]; r <= p[1]; r++){
      for (let c = p[2]; c <= p[3]; c++){
        m[r-1][c-1] = p[4];
        m[c-1][r-1] = p[4];
      }
    }
  });
  if (shift){
    for (let r = 0; r < paramCount; r++){
      for (let c = 0; c < paramCount; c++){ m[r][c] += shift[r] + shift[c]; }
    }
  }
  rows.forEach(row => {
    for (let k = 1; k < row.length; k += 2){
      m[row[0]-1][row[k]-1] = row[k+1];
      m[row[k]-1][row[0]-1] = row[k+1];
    }
  });
  if (diag){ diag.forEach((v, i) => { m[i][i] = v; }); }
  return m;
}

function line(parent, x1, y1, x2, y2, stroke, width, dash, opacity){
  const el = document.createElementNS(SVGNS, 'line');
  el.setAttribute('x1', x1); el.setAttribute('y1', y1);
  el.setAttribute('x2', x2); el.setAttribute('y2', y2);
  el.setAttribute('stroke', stroke); el.setAttribute('stroke-width', width);
  if (dash) el.setAttribute('stroke-dasharray', dash);
  if (opacity) el.setAttribute('stroke-opacity', opacity);
  parent.appendChild(el);
  return el;
}

function label(parent, cls, x, y, size, anchor, txt){
  const el = document.createElementNS(SVGNS, 'text');
  el.setAttribute('class', cls);
  el.setAttribute('x', x); el.setAttribute('y', y);
  el.setAttribute('font-size', size);
  el.setAttribute('text-anchor', anchor);
  el.textContent = txt;
  parent.appendChild(el);
  return el;
}

function drawPanel(cfg){
  const g = document.createElementNS(SVGNS, 'g');
  
  
  marks.appendChild(g);
  const w = cfg.x1 - cfg.x0, h = cfg.y1 - cfg.y0;
  /* axis runs from 0.5 to 65.5 so integer parameters sit at cell centres */
  const xScale = p => cfg.x0 + (p - 0.5) / paramCount * w;
  const yScale = p => cfg.y0 + (p - 0.5) / paramCount * h;
  const barScale = v => cfg.y0 + (cfg.max - v) / (cfg.max - cfg.min) * h;

  /* heatmap cells */
  const cells = document.createElementNS(SVGNS, 'g');
  cells.setAttribute('shape-rendering', 'crispEdges');
  
  
  g.appendChild(cells);
  for (let r = 1; r <= paramCount; r++){
    for (let c = 1; c <= paramCount; c++){
      const rect = document.createElementNS(SVGNS, 'rect');
      const left = xScale(c - 0.5), top = yScale(r - 0.5);
      rect.setAttribute('x', left.toFixed(2));
      rect.setAttribute('y', top.toFixed(2));
      rect.setAttribute('width', (Math.min(xScale(c + 0.5) + 0.6, cfg.x1) - left).toFixed(2));
      rect.setAttribute('height', (Math.min(yScale(r + 0.5) + 0.6, cfg.y1) - top).toFixed(2));
      rect.setAttribute('fill', colorFor(cfg.matrix[r-1][c-1], cfg.min, cfg.max));
      
      
      cells.appendChild(rect);
    }
  }

  /* dotted grid on even parameters */
  const grid = document.createElementNS(SVGNS, 'g');
  
  
  g.appendChild(grid);
  for (let p = 2; p < paramCount; p += 2){
    line(grid, xScale(p), cfg.y0, xScale(p), cfg.y1, '#262626', 1.5, '1.5 6', 0.55);
    line(grid, cfg.x0, yScale(p), cfg.x1, yScale(p), '#262626', 1.5, '1.5 6', 0.55);
  }

  /* plot frame */
  const frame = document.createElementNS(SVGNS, 'rect');
  frame.setAttribute('x', cfg.x0); frame.setAttribute('y', cfg.y0);
  frame.setAttribute('width', w); frame.setAttribute('height', h);
  frame.setAttribute('fill', 'none'); frame.setAttribute('stroke', '#262626'); frame.setAttribute('stroke-width', 2);
  
  
  g.appendChild(frame);

  /* axis ticks and labels */
  axisTicks.forEach(t => {
    const tx = xScale(t), ty = yScale(t);
    line(g, tx, cfg.y1, tx, cfg.y1 - 11, '#262626', 2);
    line(g, tx, cfg.y0, tx, cfg.y0 + 11, '#262626', 2);
    line(g, cfg.x0, ty, cfg.x0 + 11, ty, '#262626', 2);
    line(g, cfg.x1, ty, cfg.x1 - 11, ty, '#262626', 2);
    const xl = label(g, 'ax', tx, cfg.xTickY, 62, 'middle', String(t));
    
    
    const yl = label(g, 'ax', cfg.yTickX, ty + 15, 62, 'end', String(t));
    
    
  });

  /* colorbar */
  const bar = document.createElementNS(SVGNS, 'g');
  bar.setAttribute('shape-rendering', 'crispEdges');
  
  
  g.appendChild(bar);
  const barW = cfg.cb1 - cfg.cb0;
  parula.forEach((c, i) => {
    const step = (cfg.max - cfg.min) / parula.length;
    const top = barScale(cfg.min + (i + 1) * step);
    const rect = document.createElementNS(SVGNS, 'rect');
    rect.setAttribute('x', cfg.cb0);
    rect.setAttribute('y', top.toFixed(2));
    rect.setAttribute('width', barW);
    rect.setAttribute('height', (Math.min(h / parula.length + 0.6, cfg.y1 - top)).toFixed(2));
    rect.setAttribute('fill', 'rgb(' + c.map(k => Math.round(k * 255)).join(',') + ')');
    
    
    bar.appendChild(rect);
  });
  const barFrame = document.createElementNS(SVGNS, 'rect');
  barFrame.setAttribute('x', cfg.cb0); barFrame.setAttribute('y', cfg.y0);
  barFrame.setAttribute('width', barW); barFrame.setAttribute('height', h);
  barFrame.setAttribute('fill', 'none'); barFrame.setAttribute('stroke', '#262626'); barFrame.setAttribute('stroke-width', 2);
  
  
  g.appendChild(barFrame);
  cfg.ticks.forEach(t => {
    const y = barScale(t);
    line(g, cfg.cb1, y, cfg.cb1 - 7, y, '#262626', 2);
    line(g, cfg.cb0, y, cfg.cb0 + 7, y, '#262626', 2);
    const tl = label(g, 'cb', cfg.cbLabelX, y + 19, 54, 'start', (t < 0 ? '−' : '') + Math.abs(t));
    
    
  });
}

drawPanel({name:'panel-a', x0:193, x1:1320, y0:191, y1:1315, cb0:1335, cb1:1367, cbLabelX:1385, xTickY:1388, yTickX:175,
  min:hessAMin, max:hessAMax, ticks:hessATicks, matrix:buildMatrix(hessABase, hessAPatches, hessAShift, hessARows, hessADiag)});
drawPanel({name:'panel-b', x0:1990, x1:3095, y0:217, y1:1320, cb0:3110, cb1:3141, cbLabelX:3160, xTickY:1390, yTickX:1973,
  min:covBMin, max:covBMax, ticks:covBTicks, matrix:buildMatrix(covBBase, [], null, covBRows, null)});
drawPanel({name:'panel-c', x0:193, x1:1322, y0:1861, y1:2988, cb0:1338, cb1:1370, cbLabelX:1385, xTickY:3059, yTickX:175,
  min:hessCMin, max:hessCMax, ticks:hessCTicks, matrix:buildMatrix(hessCBase, hessCPatches, null, hessCRows, hessCDiag)});
drawPanel({name:'panel-d', x0:1970, x1:3075, y0:1888, y1:2992, cb0:3089, cb1:3122, cbLabelX:3138, xTickY:3062, yTickX:1952,
  min:covDMin, max:covDMax, ticks:covDTicks, matrix:buildMatrix(covDBase, [], null, covDRows, null)});
</script>
</body>
</html>
